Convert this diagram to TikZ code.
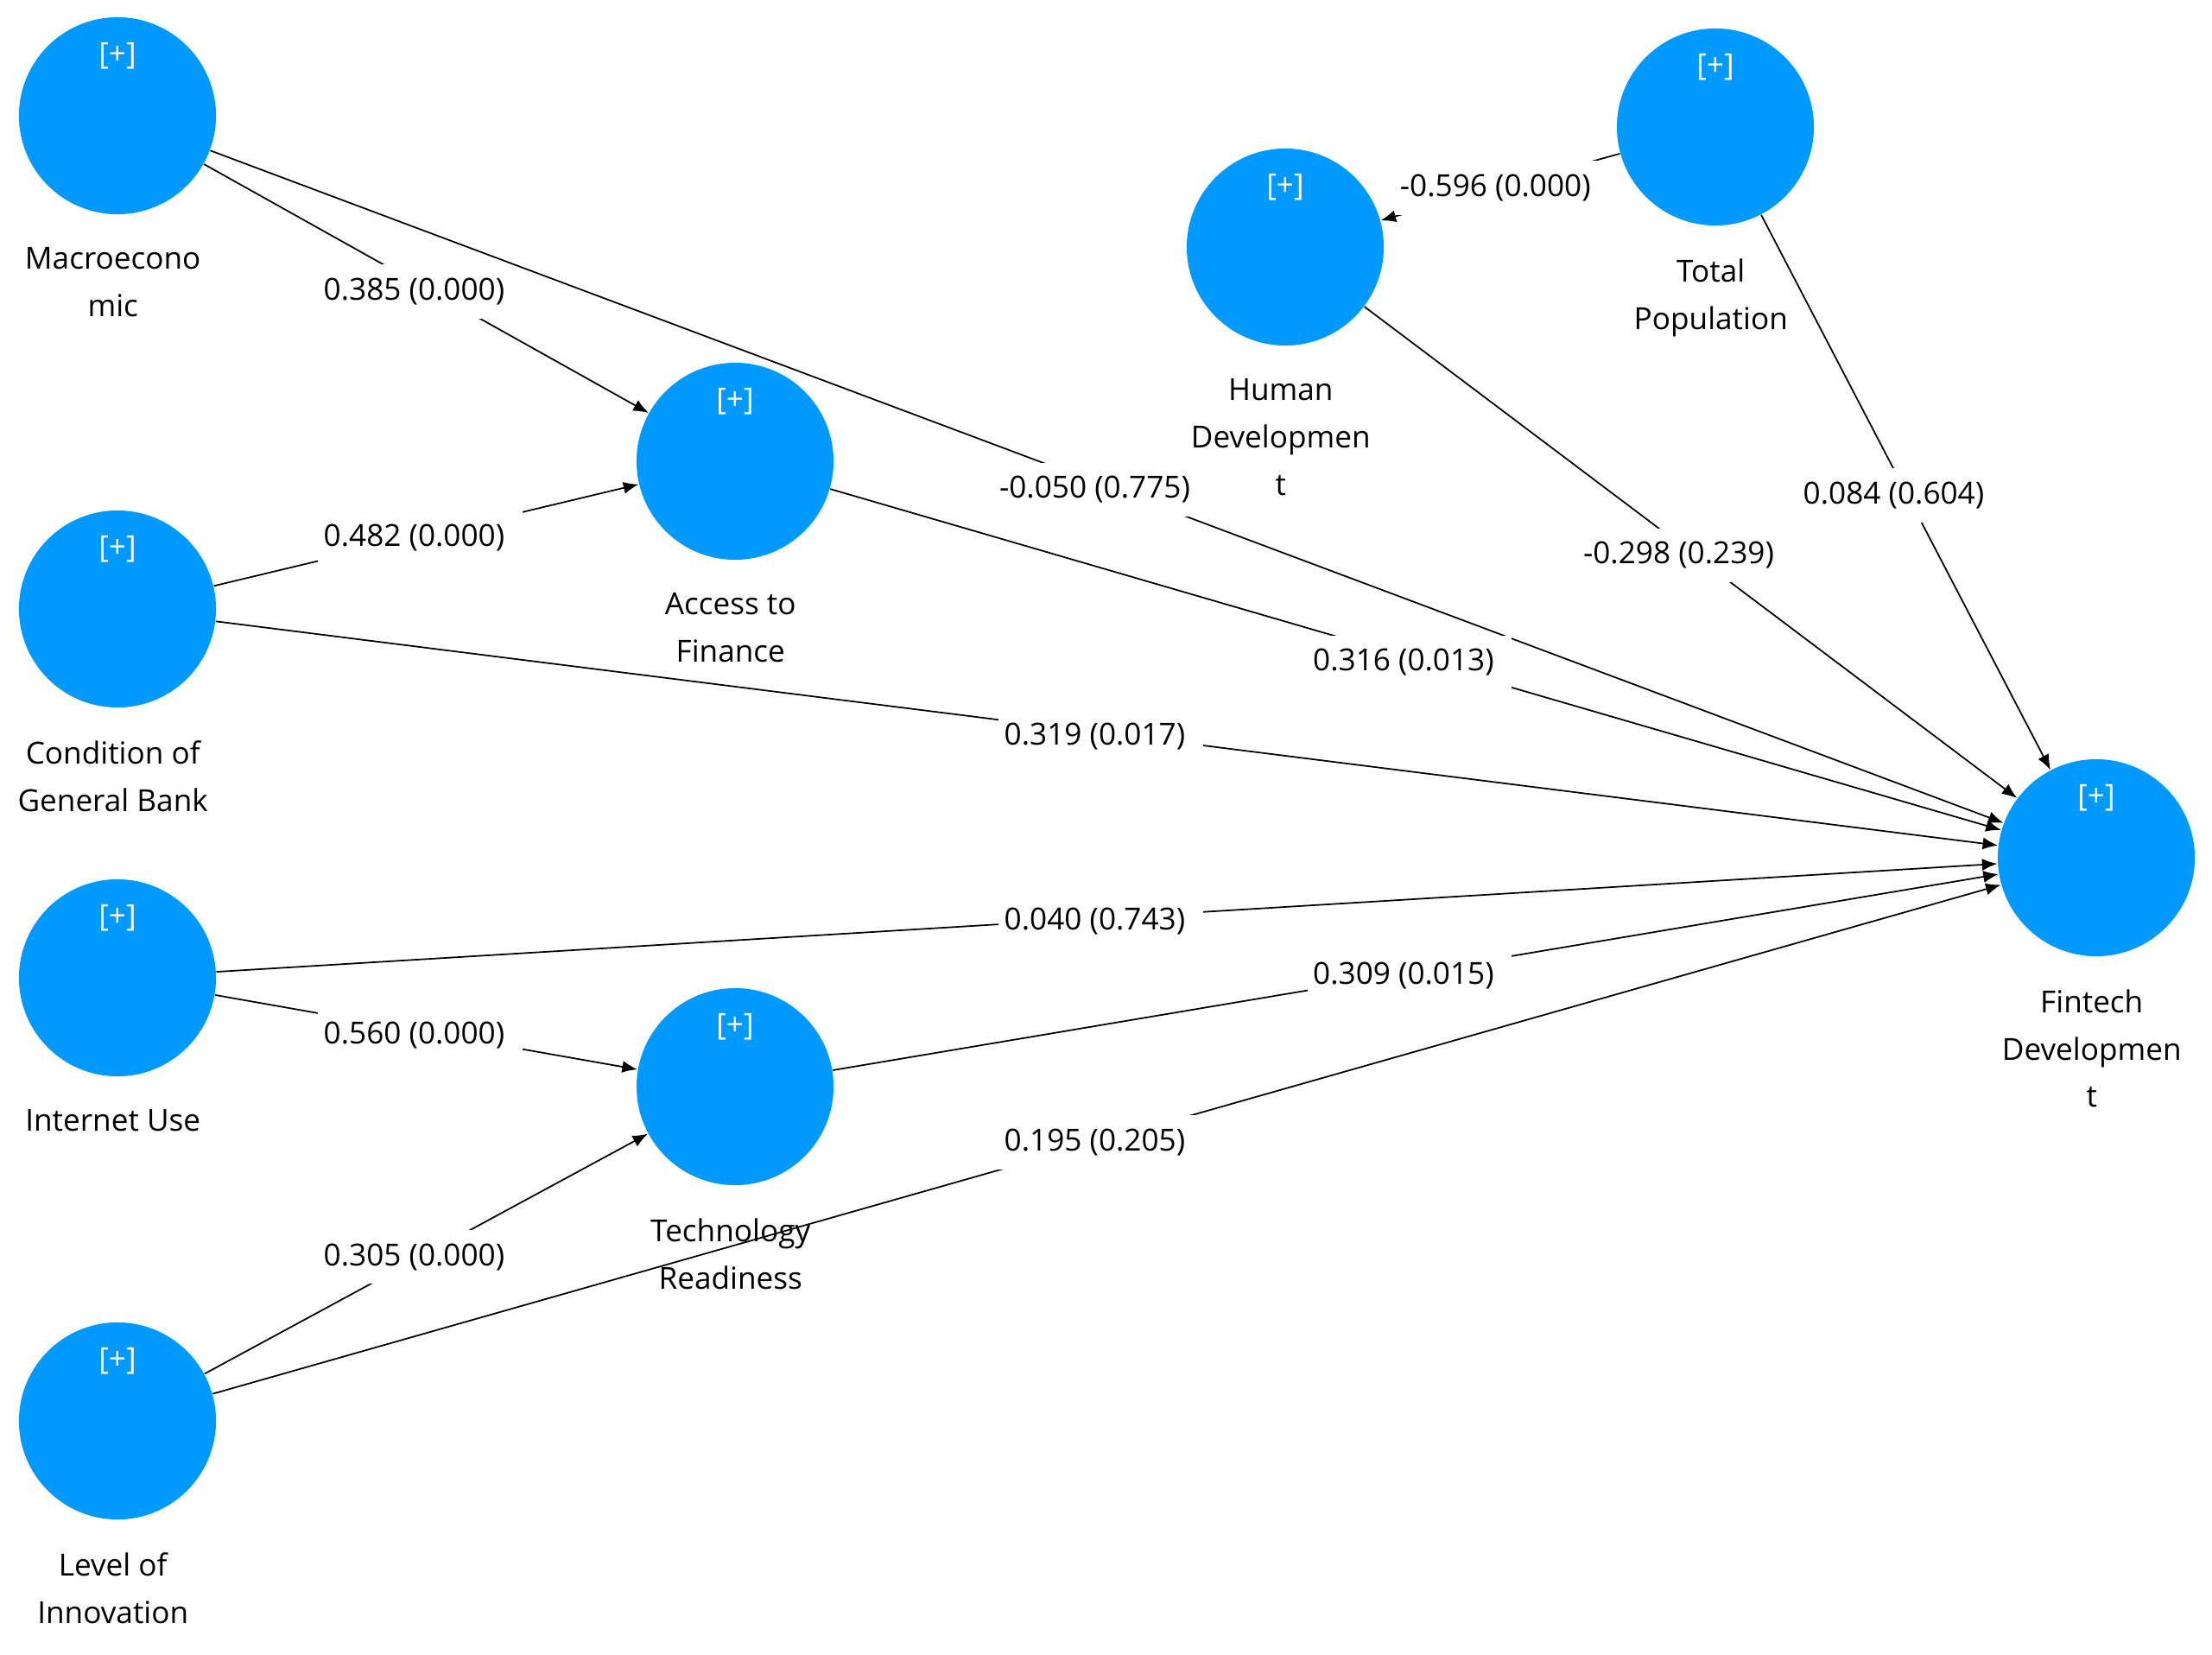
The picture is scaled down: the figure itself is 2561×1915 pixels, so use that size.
\documentclass[tikz,border=0pt]{standalone}
\usepackage{fontspec}
\setmainfont{Open Sans}
\usetikzlibrary{arrows.meta,positioning}
\definecolor{lvblue}{RGB}{0,153,255}

\begin{document}
\begin{tikzpicture}[x=0.01cm,y=-0.01cm,
    lv/.style={circle,fill=lvblue,minimum size=2.28cm,inner sep=0pt,
        label={[text=white,yshift=0.69cm]center:{[+]}}},
    nm/.style={align=center,font=\fontsize{10}{15.6}\selectfont,inner sep=0pt,xshift=-1.5pt},
    lk/.style={-{Latex[length=5pt,width=4pt]},line width=0.5pt},
    wt/.style={fill=white,inner xsep=1.8pt,inner ysep=4.5pt,xshift=-2pt,yshift=-1pt}]
    \useasboundingbox (0,0) rectangle (2561,1915);
    % latent variables
    \node[lv] (mac) at (136,134) {};
    \node[lv] (cgb) at (136,705) {};
    \node[lv] (inu) at (136,1132) {};
    \node[lv] (loi) at (136,1645) {};
    \node[lv] (atf) at (851,534) {};
    \node[lv] (tre) at (851,1258) {};
    \node[lv] (hdv) at (1488,286) {};
    \node[lv] (tpo) at (1986,147) {};
    \node[lv] (ftd) at (2427,993) {};
    % names
    \node[nm, below=0.37cm of mac] (macl) {Macroecono\\mic};
    \node[nm, below=0.37cm of cgb] (cgbl) {Condition of\\General Bank};
    \node[nm, below=0.37cm of inu] (inul) {Internet Use};
    \node[nm, below=0.37cm of loi] (loil) {Level of\\Innovation};
    \node[nm, below=0.37cm of atf] (atfl) {Access to\\Finance};
    \node[nm, below=0.37cm of tre] (trel) {Technology\\Readiness};
    \node[nm, below=0.37cm of hdv] (hdvl) {Human\\Developmen\\t};
    \node[nm, below=0.37cm of tpo] (tpol) {Total\\Population};
    \node[nm, below=0.37cm of ftd] (ftdl) {Fintech\\Developmen\\t};
    % paths
    \draw[lk] (mac) -- node[wt] {0.385 (0.000)\kern4pt} (atf);
    \draw[lk] (cgb) -- node[wt] {0.482 (0.000)\kern4pt} (atf);
    \draw[lk] (inu) -- node[wt] {0.560 (0.000)\kern4pt} (tre);
    \draw[lk] (loi) -- node[wt] {0.305 (0.000)\kern4pt} (tre);
    \draw[lk] (mac) -- node[wt] {-0.050 (0.775)\kern4pt} (ftd);
    \draw[lk] (atf) -- node[wt] {0.316 (0.013)\kern4pt} (ftd);
    \draw[lk] (cgb) -- node[wt] {0.319 (0.017)\kern4pt} (ftd);
    \draw[lk] (inu) -- node[wt] {0.040 (0.743)\kern4pt} (ftd);
    \draw[lk] (tre) -- node[wt] {0.309 (0.015)\kern4pt} (ftd);
    \draw[lk] (loi) -- node[wt] {0.195 (0.205)\kern4pt} (ftd);
    \draw[lk] (tpo) -- node[wt, pos=0.47] {-0.596 (0.000)\kern4pt} (hdv);
    \draw[lk] (hdv) -- node[wt] {-0.298 (0.239)\kern4pt} (ftd);
    \draw[lk] (tpo) -- node[wt] {0.084 (0.604)\kern4pt} (ftd);
\end{tikzpicture}
\end{document}
